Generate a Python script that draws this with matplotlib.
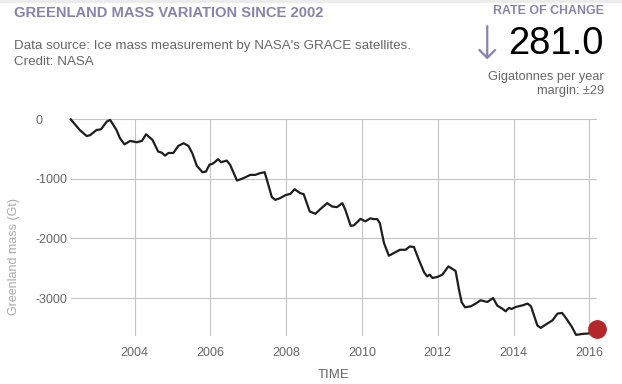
import matplotlib
matplotlib.use("Agg")
import matplotlib.pyplot as plt
from matplotlib.patches import Rectangle

plt.rcParams['font.family'] = ['Liberation Sans', 'DejaVu Sans']
plt.rcParams['axes.unicode_minus'] = False

# Greenland ice mass anomaly (Gt)
years = [2002.31, 2002.55, 2002.73, 2002.82, 2002.99, 2003.11, 2003.26, 2003.35,
         2003.52, 2003.61, 2003.73, 2003.88, 2004.05, 2004.19, 2004.30, 2004.47,
         2004.62, 2004.71, 2004.80, 2004.89, 2005.02, 2005.15, 2005.29, 2005.42,
         2005.52, 2005.64, 2005.79, 2005.88, 2005.97, 2006.08, 2006.20, 2006.28,
         2006.43, 2006.52, 2006.70, 2006.87, 2007.05, 2007.18, 2007.31, 2007.43,
         2007.49, 2007.62, 2007.71, 2007.84, 2007.98, 2008.11, 2008.22, 2008.37,
         2008.46, 2008.62, 2008.77, 2008.90, 2009.08, 2009.21, 2009.34, 2009.48,
         2009.56, 2009.70, 2009.78, 2009.96, 2010.09, 2010.22, 2010.31, 2010.40,
         2010.47, 2010.58, 2010.71, 2010.84, 2011.00, 2011.15, 2011.26, 2011.37,
         2011.50, 2011.64, 2011.72, 2011.79, 2011.86, 2011.99, 2012.12, 2012.28,
         2012.47, 2012.56, 2012.63, 2012.72, 2012.87, 2013.00, 2013.13, 2013.31,
         2013.46, 2013.57, 2013.70, 2013.79, 2013.88, 2013.95, 2014.06, 2014.24,
         2014.37, 2014.46, 2014.63, 2014.72, 2014.85, 2015.03, 2015.16, 2015.28,
         2015.38, 2015.54, 2015.65, 2015.83, 2015.97, 2016.20]
mass = [0, -180, -280, -268, -180, -168, -40, -10,
        -180, -318, -420, -363, -385, -363, -251, -347,
        -542, -559, -610, -565, -565, -447, -402, -447,
        -570, -782, -888, -877, -765, -737, -670, -720,
        -693, -765, -1028, -988, -933, -933, -904, -888,
        -1017, -1306, -1352, -1323, -1273, -1251, -1173, -1240,
        -1256, -1548, -1586, -1508, -1407, -1464, -1474, -1407,
        -1519, -1787, -1782, -1672, -1712, -1662, -1675, -1675,
        -1742, -2077, -2290, -2245, -2190, -2190, -2134, -2144,
        -2357, -2570, -2637, -2608, -2663, -2646, -2608, -2469,
        -2545, -2859, -3071, -3155, -3139, -3093, -3038, -3066,
        -2999, -3127, -3177, -3222, -3166, -3183, -3149, -3122,
        -3093, -3139, -3462, -3501, -3445, -3373, -3261, -3250,
        -3333, -3484, -3618, -3601, -3596, -3517]

x_ticks = [2004, 2006, 2008, 2010, 2012, 2014, 2016]
y_ticks = [0, -1000, -2000, -3000]

title_col = '#8a82ad'
grey = '#666666'

fig = plt.figure(figsize=(6.22, 3.84), dpi=100)
# faint band along the top edge
fig.patches.append(Rectangle((0, 1 - 2/384), 1, 2/384, transform=fig.transFigure,
                             color='#ececec', zorder=0))
ax = fig.add_axes([71/622, 48/384, 526/622, 216.7/384])

ax.plot(years, mass, color='#1e1e1e', lw=1.6, clip_on=False, zorder=3)
ax.plot(years[-1], mass[-1], 'o', color='#b5262b', ms=12.5, clip_on=False, zorder=4)

ax.set_xlim(2002.318, 2016.203)
ax.set_ylim(-3637, 0)
ax.set_xticks(x_ticks)
ax.set_yticks(y_ticks)
ax.grid(True, color='#c4c4c4', lw=0.8)
ax.set_axisbelow(True)
for s in ax.spines.values():
    s.set_visible(False)
ax.tick_params(length=0, labelsize=9, labelcolor=grey)
ax.tick_params(axis='x', pad=8)
ax.tick_params(axis='y', pad=25.2)
for lbl in ax.get_yticklabels():
    lbl.set_horizontalalignment('left')

ax.set_ylabel('Greenland mass (Gt)', color='#aaaaaa', fontsize=9)
ax.yaxis.set_label_coords(-0.097, 0.365)
ax.set_xlabel('TIME', color=grey, fontsize=9.5, labelpad=7)

# header texts
fig.text(14/622, 1 - 13/384, 'GREENLAND MASS VARIATION SINCE 2002', color=title_col,
         fontsize=10.6, fontweight='bold', va='center', ha='left')
fig.text(14/622, 1 - 46/384, "Data source: Ice mass measurement by NASA's GRACE satellites.",
         color=grey, fontsize=9.6, va='center', ha='left')
fig.text(14/622, 1 - 62/384, 'Credit: NASA', color=grey, fontsize=9.6, va='center', ha='left')

fig.text(604/622, 1 - 11/384, 'RATE OF CHANGE', color=title_col, fontsize=8.9,
         fontweight='bold', va='center', ha='right')
fig.text(487/622, 1 - 46/384, '\u2193', color=title_col, fontsize=33,
         family=['DejaVu Sans'], fontweight='light', va='center', ha='center')
fig.text(604/622, 1 - 44/384, '281.0', color='black', fontsize=27.5,
         va='center', ha='right')
fig.text(604/622, 1 - 77/384, 'Gigatonnes per year', color=grey, fontsize=9.2,
         va='center', ha='right')
fig.text(604/622, 1 - 91/384, 'margin: \u00b129', color=grey, fontsize=9.2,
         va='center', ha='right')

fig.savefig('out.png', dpi=100)
